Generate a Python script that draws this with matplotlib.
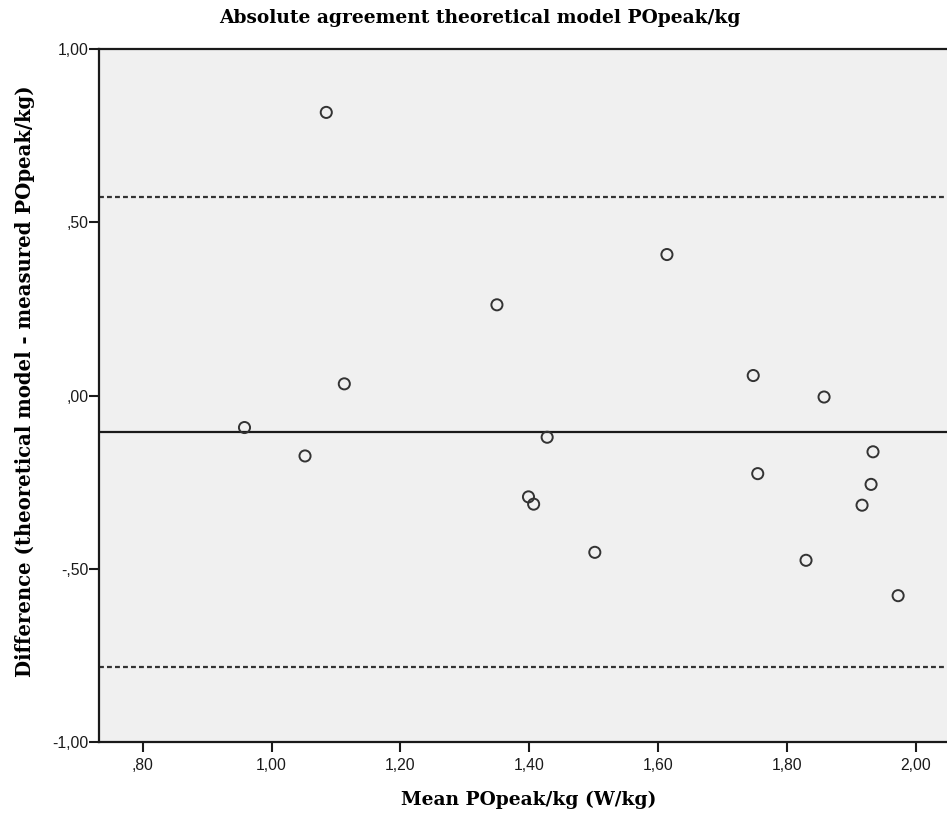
import matplotlib
matplotlib.use("Agg")
import matplotlib.pyplot as plt
from matplotlib.ticker import FixedLocator, FuncFormatter

# Bland-Altman data
mean_popeak = [1.085, 1.350, 1.113, 0.958, 1.052, 1.428, 1.399, 1.407, 1.502,
               1.614, 1.748, 1.858, 1.934, 1.755, 1.931, 1.917, 1.830, 1.973]
diff_popeak = [0.817, 0.262, 0.034, -0.092, -0.174, -0.120, -0.292, -0.313, -0.452,
               0.407, 0.058, -0.004, -0.162, -0.225, -0.256, -0.316, -0.475, -0.577]
mean_diff = -0.104
upper_loa = 0.573
lower_loa = -0.782

x_ticks = [0.80, 1.00, 1.20, 1.40, 1.60, 1.80, 2.00]
y_ticks = [-1.00, -0.50, 0.00, 0.50, 1.00]

SERIF = ["DejaVu Serif"]
SANS = ["Liberation Sans", "DejaVu Sans"]


def spss_fmt(v, _pos=None):
    # SPSS style: comma decimal, no leading zero
    s = f"{abs(v):.2f}".replace(".", ",")
    if s.startswith("0"):
        s = s[1:]
    return ("-" if v < -1e-9 else "") + s


fig = plt.figure(figsize=(9.47, 8.16), dpi=100)
fig.patch.set_facecolor("white")
ax = fig.add_axes([0.1049, 0.0903, 0.8951, 0.8497])
ax.set_facecolor("#f0f0f0")

ax.axhline(upper_loa, color="#333333", lw=1.6, ls=(0, (2.2, 1.4)), zorder=2)
ax.axhline(lower_loa, color="#333333", lw=1.6, ls=(0, (2.2, 1.4)), zorder=2)
ax.axhline(mean_diff, color="#1a1a1a", lw=1.6, zorder=2)

ax.scatter(mean_popeak, diff_popeak, s=64, facecolors="none",
           edgecolors="#333333", linewidths=1.4, zorder=3)

ax.set_xlim(0.7326, 2.0489)
ax.set_ylim(-1.0, 1.0)
ax.xaxis.set_major_locator(FixedLocator(x_ticks))
ax.yaxis.set_major_locator(FixedLocator(y_ticks))
ax.xaxis.set_major_formatter(FuncFormatter(spss_fmt))
ax.yaxis.set_major_formatter(FuncFormatter(spss_fmt))

for side in ["left", "bottom", "top"]:
    ax.spines[side].set_linewidth(1.6)
    ax.spines[side].set_color("#1a1a1a")
ax.spines["right"].set_visible(False)

ax.tick_params(axis="both", direction="out", length=7.5, width=1.5,
               color="#1a1a1a", labelsize=11.3, labelcolor="#1a1a1a")
ax.tick_params(axis="x", pad=4)
ax.tick_params(axis="y", pad=0.5)
for lab in ax.get_xticklabels() + ax.get_yticklabels():
    lab.set_family(SANS)

# axis titles placed as figure text to match the reference positions
fig.text(529 / 947, 1 - 800 / 816, "Mean POpeak/kg (W/kg)", ha="center", va="center",
         fontsize=13.4, fontweight="bold", family=SERIF)
fig.text(25 / 947, 1 - 381.5 / 816, "Difference (theoretical model - measured POpeak/kg)",
         ha="center", va="center", rotation=90, fontsize=14.1, fontweight="bold",
         family=SERIF)
fig.text(480 / 947, 1 - 18 / 816, "Absolute agreement theoretical model POpeak/kg",
         ha="center", va="center", fontsize=13.4, fontweight="bold", family=SERIF)

fig.savefig("out.png", dpi=100, facecolor="white")
